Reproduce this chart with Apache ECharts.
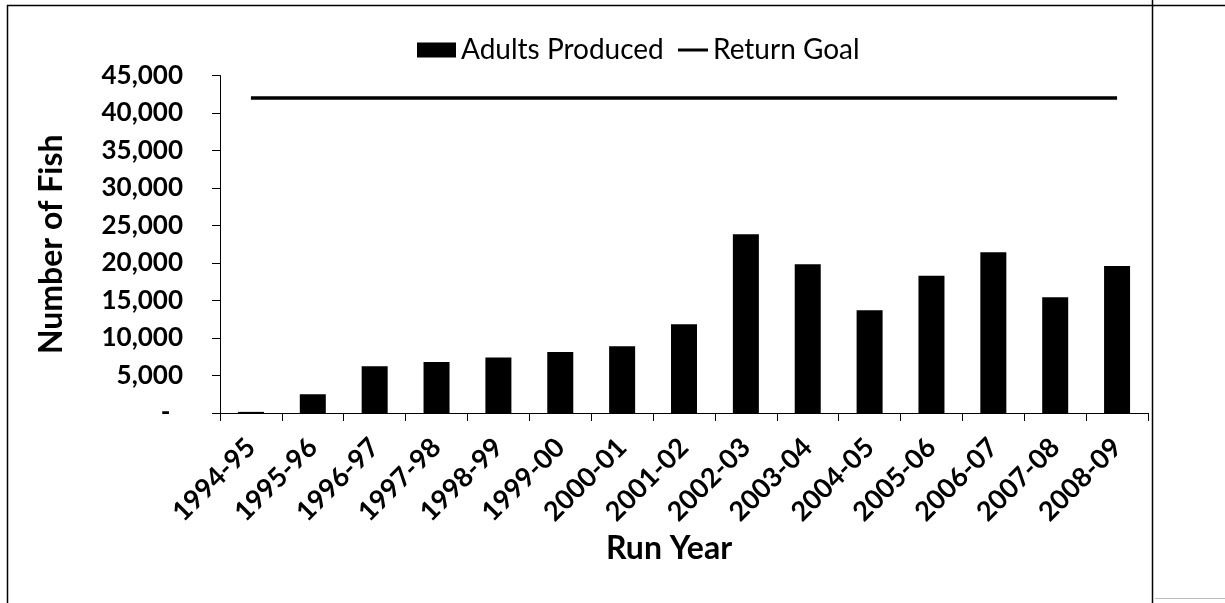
<!DOCTYPE html>
<html>
<head>
<meta charset="utf-8">
<script src="https://cdn.jsdelivr.net/npm/echarts@6/dist/echarts.min.js"></script>
<style>
  html, body { margin: 0; padding: 0; background: #fff; }
  #chart { width: 1225px; height: 603px; }
</style>
</head>
<body>
<div id="chart"></div>
<script>
// Run years on the category axis
const runYears = ['1994-95', '1995-96', '1996-97', '1997-98', '1998-99', '1999-00', '2000-01',
  '2001-02', '2002-03', '2003-04', '2004-05', '2005-06', '2006-07', '2007-08', '2008-09'];

// Adults produced per run year
const adultsProduced = [150, 2500, 6250, 6800, 7400, 8150, 8900,
  11850, 23850, 19850, 13700, 18300, 21450, 15450, 19600];

// Return goal, constant across the years
const returnGoal = [42000, 42000, 42000, 42000, 42000, 42000, 42000,
  42000, 42000, 42000, 42000, 42000, 42000, 42000, 42000];

const FONT = 'Lato, "Open Sans", sans-serif';

function fmtThousands(v) {
  if (v === 0) return '-  ';
  return String(v).replace(/\B(?=(\d{3})+(?!\d))/g, ',');
}

const chart = echarts.init(document.getElementById('chart'), null, { renderer: 'canvas' });

chart.setOption({
  backgroundColor: '#fff',
  animation: false,
  textStyle: { fontFamily: FONT, color: '#000' },
  legend: [
    {
      data: ['Adults Produced'],
      left: 412, top: 31,
      itemWidth: 39, itemHeight: 15, itemGap: 0,
      icon: 'rect',
      textStyle: { fontFamily: FONT, fontSize: 28, color: '#000' }
    },
    {
      data: ['Return Goal'],
      left: 673, top: 31,
      itemWidth: 30, itemHeight: 3, itemGap: 0,
      icon: 'rect',
      textStyle: { fontFamily: FONT, fontSize: 28, color: '#000' }
    }
  ],
  grid: { left: 220, right: 77, top: 75.5, bottom: 190, containLabel: false },
  xAxis: {
    type: 'category',
    data: runYears,
    name: 'Run Year',
    nameLocation: 'middle',
    nameGap: 116,
    nameTextStyle: { fontFamily: FONT, fontSize: 32, fontWeight: 'bold', color: '#000', padding: [0, 30, 0, 0] },
    axisLine: { lineStyle: { color: '#000', width: 1 } },
    axisTick: { show: true, length: 8, lineStyle: { color: '#000' } },
    axisLabel: {
      rotate: 45, margin: 30, interval: 0,
      fontFamily: FONT, fontSize: 27, fontWeight: 'bold', color: '#000'
    }
  },
  yAxis: {
    type: 'value',
    min: 0, max: 45000, interval: 5000,
    name: 'Number of Fish',
    nameLocation: 'middle',
    nameGap: 152,
    nameRotate: 90,
    nameTextStyle: { fontFamily: FONT, fontSize: 32, fontWeight: 'bold', color: '#000' },
    axisLine: { show: true, lineStyle: { color: '#000', width: 1 } },
    axisTick: { show: true, length: 8, lineStyle: { color: '#000' } },
    splitLine: { show: false },
    axisLabel: {
      margin: 37,
      fontFamily: FONT, fontSize: 26, fontWeight: 'bold', color: '#000',
      formatter: fmtThousands
    }
  },
  series: [
    {
      name: 'Adults Produced',
      type: 'bar',
      data: adultsProduced,
      barWidth: 26,
      itemStyle: { color: '#000' }
    },
    {
      name: 'Return Goal',
      type: 'line',
      data: returnGoal,
      symbol: 'none',
      lineStyle: { color: '#000', width: 3.5 },
      itemStyle: { color: '#000' }
    }
  ],
  graphic: [
    { type: 'line', shape: { x1: 7, y1: 5.5, x2: 1225, y2: 5.5 }, style: { stroke: '#000', lineWidth: 1.5 } },
    { type: 'line', shape: { x1: 7.5, y1: 5, x2: 7.5, y2: 603 }, style: { stroke: '#000', lineWidth: 1.5 } },
    { type: 'line', shape: { x1: 1152.5, y1: 0, x2: 1152.5, y2: 603 }, style: { stroke: '#000', lineWidth: 1.5 } },
    { type: 'line', shape: { x1: 1155, y1: 598.5, x2: 1225, y2: 598.5 }, style: { stroke: '#bbb', lineWidth: 1 } }
  ]
});
</script>
</body>
</html>
